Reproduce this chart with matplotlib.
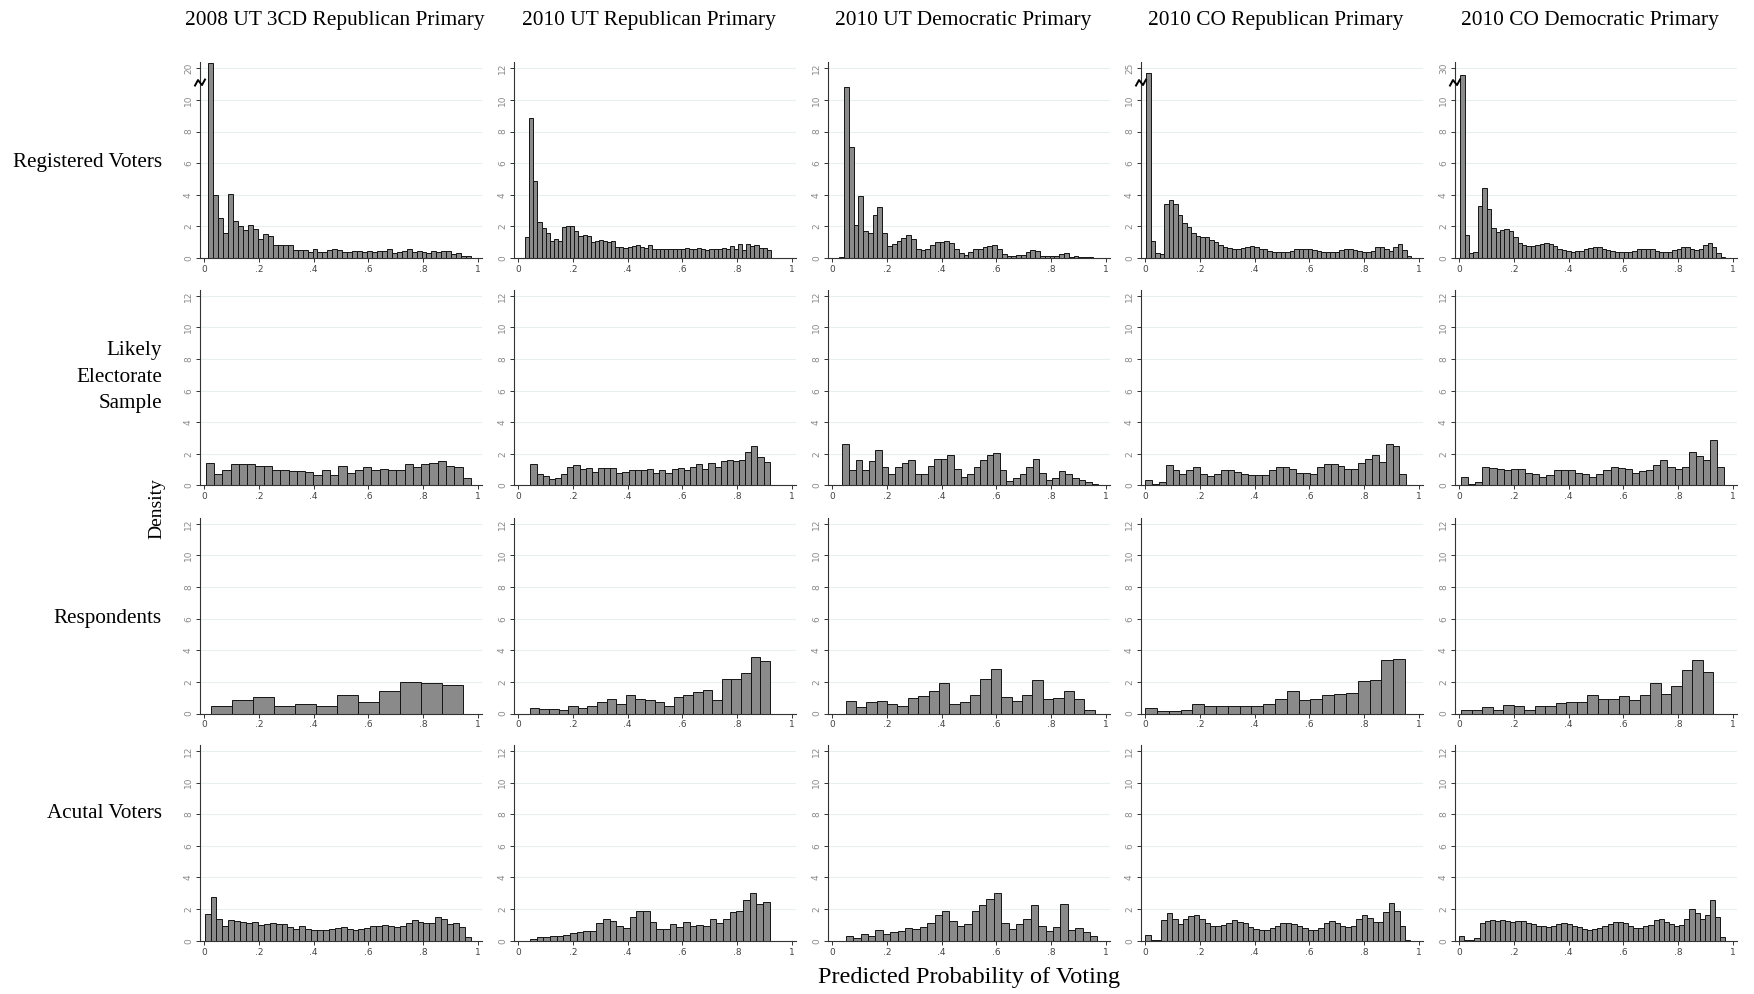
import numpy as np
import matplotlib
matplotlib.use("Agg")
import matplotlib.pyplot as plt

# column / row labels
titles = ["2008 UT 3CD Republican Primary", "2010 UT Republican Primary",
          "2010 UT Democratic Primary", "2010 CO Republican Primary",
          "2010 CO Democratic Primary"]
row_names = ["Registered Voters", "Likely\nElectorate\nSample", "Respondents", "Acutal Voters"]
xtick_vals = [0, 0.2, 0.4, 0.6, 0.8, 1]
xtick_labs = ["0", ".2", ".4", ".6", ".8", "1"]
ytick_vals = [0, 2, 4, 6, 8, 10, 12]

# ---- row 1: registered voters (density per bin), bin range (lo, hi)
rv_ut08r = [23, 4.0, 2.55, 1.6, 4.05, 2.35, 2.05, 1.8, 2.1, 1.85, 1.2, 1.55, 1.4, 0.85, 0.8,
            0.85, 0.8, 0.5, 0.5, 0.5, 0.4, 0.6, 0.35, 0.4, 0.5, 0.6, 0.5, 0.4, 0.35, 0.45,
            0.45, 0.35, 0.45, 0.4, 0.45, 0.45, 0.55, 0.3, 0.35, 0.45, 0.6, 0.35, 0.45, 0.35,
            0.3, 0.45, 0.4, 0.45, 0.45, 0.25, 0.3, 0.15, 0.15]
rv_ut10r = [1.3, 8.85, 4.9, 2.3, 1.9, 1.6, 1.05, 1.2, 1.05, 1.95, 2.05, 2.05, 1.7, 1.4, 1.45,
            1.4, 1.0, 1.05, 1.15, 1.1, 1.0, 1.1, 0.7, 0.7, 0.65, 0.7, 0.75, 0.85, 0.7, 0.65,
            0.8, 0.6, 0.55, 0.55, 0.6, 0.55, 0.6, 0.55, 0.55, 0.65, 0.6, 0.55, 0.65, 0.6, 0.5,
            0.6, 0.6, 0.55, 0.65, 0.6, 0.75, 0.6, 0.9, 0.5, 0.9, 0.75, 0.85, 0.65, 0.65, 0.5]
rv_ut10d = [0.05, 10.85, 7.0, 2.1, 3.95, 1.7, 1.6, 2.75, 3.2, 1.6, 0.75, 0.9, 1.05, 1.25, 1.45,
            1.2, 0.6, 0.5, 0.6, 0.8, 1.0, 1.0, 1.1, 0.95, 0.6, 0.3, 0.2, 0.35, 0.55, 0.6, 0.7,
            0.75, 0.85, 0.6, 0.25, 0.15, 0.15, 0.2, 0.2, 0.4, 0.5, 0.45, 0.15, 0.1, 0.1, 0.15,
            0.25, 0.3, 0.05, 0.1, 0.05, 0.05, 0.05, 0.02]
rv_co10r = [21, 1.05, 0.3, 0.25, 3.4, 3.7, 3.4, 2.75, 2.2, 1.95, 1.6, 1.4, 1.35, 1.3, 1.15, 1.0,
            0.85, 0.7, 0.65, 0.6, 0.6, 0.65, 0.7, 0.75, 0.7, 0.6, 0.55, 0.45, 0.4, 0.4, 0.4,
            0.4, 0.45, 0.55, 0.6, 0.6, 0.6, 0.5, 0.45, 0.35, 0.35, 0.35, 0.4, 0.5, 0.55, 0.6,
            0.5, 0.45, 0.35, 0.35, 0.45, 0.7, 0.7, 0.55, 0.45, 0.7, 0.9, 0.5, 0.1]
rv_co10d = [22, 1.45, 0.3, 0.35, 3.3, 4.4, 3.1, 1.9, 1.65, 1.8, 1.85, 1.7, 1.35, 0.95, 0.8,
            0.75, 0.75, 0.85, 0.9, 0.95, 0.9, 0.75, 0.6, 0.5, 0.45, 0.4, 0.45, 0.45, 0.55,
            0.65, 0.7, 0.7, 0.6, 0.5, 0.45, 0.4, 0.35, 0.35, 0.4, 0.45, 0.55, 0.6, 0.6, 0.55,
            0.45, 0.4, 0.4, 0.4, 0.5, 0.6, 0.7, 0.7, 0.6, 0.5, 0.55, 0.85, 0.95, 0.7, 0.3, 0.05]

# ---- row 2: likely electorate sample
le_ut08r = [1.4, 0.7, 0.95, 1.35, 1.35, 1.35, 1.25, 1.25, 0.95, 0.95, 0.9, 0.9, 0.85, 0.65,
            0.95, 0.65, 1.25, 0.8, 0.95, 1.15, 0.95, 1.05, 0.95, 1.0, 1.35, 1.15, 1.35, 1.4,
            1.55, 1.25, 1.15, 0.45]
le_ut10r = [1.35, 0.75, 0.6, 0.4, 0.5, 0.75, 1.2, 1.3, 1.05, 1.1, 0.85, 1.1, 1.1, 1.1, 0.8,
            0.85, 0.95, 0.95, 0.95, 1.05, 0.8, 0.95, 0.8, 1.05, 1.1, 1.0, 1.2, 1.35, 1.05, 1.4,
            1.15, 1.55, 1.6, 1.55, 1.6, 2.1, 2.5, 1.8, 1.5]
le_ut10d = [2.65, 1.0, 1.6, 0.95, 1.55, 2.25, 1.2, 0.75, 1.15, 1.4, 1.6, 0.75, 0.75, 1.25, 1.7,
            1.7, 1.9, 1.05, 0.55, 0.75, 1.15, 1.6, 1.9, 2.05, 0.95, 0.3, 0.45, 0.7, 1.2, 1.65,
            0.8, 0.35, 0.5, 0.9, 0.7, 0.45, 0.35, 0.25, 0.1]
le_co10r = [0.35, 0.1, 0.2, 1.3, 0.95, 0.75, 0.95, 1.2, 0.75, 0.6, 0.75, 0.95, 1.0, 0.85, 0.7,
            0.65, 0.65, 0.65, 1.0, 1.15, 1.2, 1.05, 0.8, 0.8, 0.75, 1.2, 1.35, 1.35, 1.25,
            1.05, 1.05, 1.45, 1.65, 1.9, 1.5, 2.65, 2.5, 0.75]
le_co10d = [0.55, 0.1, 0.2, 1.2, 1.1, 1.05, 0.95, 1.05, 1.05, 0.8, 0.75, 0.55, 0.65, 0.95, 0.95,
            0.95, 0.8, 0.75, 0.55, 0.7, 1.0, 1.15, 1.1, 1.05, 0.8, 0.9, 0.95, 1.3, 1.6, 1.2,
            1.05, 1.2, 2.1, 1.85, 1.6, 2.9, 1.15]

# ---- row 3: respondents
rs_ut08r = [0.5, 0.85, 1.05, 0.45, 0.6, 0.5, 1.2, 0.7, 1.45, 2.0, 1.9, 1.8]
rs_ut10r = [0.35, 0.3, 0.3, 0.2, 0.5, 0.35, 0.5, 0.7, 0.9, 0.6, 1.2, 0.9, 0.85, 0.75, 0.5,
            1.05, 1.15, 1.35, 1.5, 0.85, 2.2, 2.2, 2.55, 3.55, 3.3]
rs_ut10d = [0.8, 0.4, 0.75, 0.8, 0.6, 0.45, 1.0, 1.1, 1.45, 1.9, 0.6, 0.7, 1.15, 2.2, 2.8,
            1.05, 0.8, 1.2, 2.15, 0.9, 1.0, 1.4, 0.9, 0.25]
rs_co10r = [0.35, 0.15, 0.15, 0.2, 0.6, 0.5, 0.5, 0.45, 0.45, 0.5, 0.6, 0.9, 1.4, 0.85, 0.9,
            1.15, 1.25, 1.3, 2.05, 2.15, 3.4, 3.45]
rs_co10d = [0.25, 0.2, 0.4, 0.2, 0.55, 0.5, 0.25, 0.5, 0.5, 0.65, 0.7, 0.7, 1.2, 0.9, 0.9,
            1.1, 0.85, 1.2, 1.9, 1.25, 1.75, 2.75, 3.4, 2.6]

# ---- row 4: actual voters
av_ut08r = [1.7, 2.75, 1.4, 0.9, 1.3, 1.25, 1.2, 1.15, 1.2, 1.0, 1.05, 1.1, 1.05, 1.05, 0.85,
            0.75, 0.9, 0.75, 0.65, 0.65, 0.7, 0.75, 0.8, 0.85, 0.75, 0.7, 0.75, 0.8, 0.95,
            0.95, 1.0, 0.9, 0.85, 0.9, 1.1, 1.3, 1.2, 1.1, 1.15, 1.5, 1.35, 1.05, 1.15, 0.85,
            0.25]
av_ut10r = [0.1, 0.25, 0.25, 0.3, 0.3, 0.35, 0.5, 0.55, 0.6, 0.6, 1.1, 1.35, 1.25, 0.9, 0.8,
            1.5, 1.9, 1.85, 1.2, 0.75, 0.75, 1.05, 0.85, 1.2, 0.9, 1.0, 0.95, 1.4, 1.15, 1.4,
            1.8, 1.9, 2.6, 3.0, 2.3, 2.45]
av_ut10d = [0.3, 0.2, 0.4, 0.3, 0.7, 0.4, 0.55, 0.6, 0.8, 0.75, 0.85, 1.1, 1.6, 1.9, 1.25,
            0.95, 1.05, 1.85, 2.25, 2.65, 3.0, 1.1, 0.75, 1.05, 1.4, 2.25, 0.9, 0.6, 0.85, 2.3,
            0.7, 0.8, 0.55, 0.3]
av_co10r = [0.35, 0.05, 0.05, 1.3, 1.75, 1.35, 1.05, 1.35, 1.55, 1.6, 1.4, 1.15, 0.9, 0.9, 1.0,
            1.15, 1.3, 1.2, 1.1, 0.85, 0.75, 0.65, 0.7, 0.8, 0.95, 1.15, 1.15, 1.05, 0.9, 0.8,
            0.7, 0.7, 0.8, 1.1, 1.25, 1.15, 0.95, 0.85, 0.95, 1.4, 1.6, 1.45, 1.2, 1.2, 1.8,
            2.4, 1.85, 0.9, 0.05]
av_co10d = [0.3, 0.05, 0.05, 0.15, 1.1, 1.25, 1.3, 1.25, 1.3, 1.25, 1.2, 1.25, 1.25, 1.1, 1.05,
            0.95, 0.9, 0.85, 0.95, 1.05, 1.1, 1.05, 0.95, 0.85, 0.75, 0.7, 0.75, 0.8, 0.9, 1.05,
            1.2, 1.2, 1.15, 0.9, 0.8, 0.8, 0.9, 1.0, 1.3, 1.4, 1.2, 1.05, 0.95, 1.0, 1.4, 2.0,
            1.75, 1.35, 1.6, 2.55, 1.5, 0.25]

# histogram support (min, max of predicted probability) per panel
rv_range = [(0.016, 0.976), (0.026, 0.924), (0.026, 0.97), (0.004, 0.973), (0.004, 0.973)]
le_range = [(0.006, 0.975), (0.045, 0.92), (0.038, 0.973), (0.0, 0.955), (0.007, 0.97)]
rs_range = [(0.025, 0.947), (0.043, 0.92), (0.049, 0.96), (0.0, 0.95), (0.007, 0.93)]
av_range = [(0.002, 0.975), (0.043, 0.92), (0.05, 0.97), (0.0, 0.97), (0.0, 0.973)]

# top tick label used where the y axis is broken (None = no break)
break_top = [20, None, None, 25, 30]

rows = [
    ([rv_ut08r, rv_ut10r, rv_ut10d, rv_co10r, rv_co10d], rv_range),
    ([le_ut08r, le_ut10r, le_ut10d, le_co10r, le_co10d], le_range),
    ([rs_ut08r, rs_ut10r, rs_ut10d, rs_co10r, rs_co10d], rs_range),
    ([av_ut08r, av_ut10r, av_ut10d, av_co10r, av_co10d], av_range),
]

W, H = 1754, 994
fig = plt.figure(figsize=(W / 100, H / 100), dpi=100)
fig.patch.set_facecolor("white")

lefts = [200, 514, 828, 1141, 1455]
zero_y = [258, 485.5, 713.5, 940.7]
aw, ah = 282, 196
ytop = 12.4
serif = ["Liberation Serif", "DejaVu Serif"]


def squash(v, top):
    # values above 11 are compressed so that `top` sits at the 12 tick
    v = np.asarray(v, dtype=float)
    if top is None:
        return v
    return np.where(v > 11, 11 + (v - 11) / (top - 11), v)


for r, (series, ranges) in enumerate(rows):
    for c in range(5):
        ax = fig.add_axes([lefts[c] / W, (H - zero_y[r]) / H, aw / W, ah / H])
        vals = series[c]
        lo, hi = ranges[c]
        edges = np.linspace(lo, hi, len(vals) + 1)
        top = break_top[c] if r == 0 else None
        ax.bar(edges[:-1], squash(vals, top), width=np.diff(edges), align="edge",
               color="#8a8a8a", edgecolor="#141414", linewidth=0.7, zorder=2)
        for gy in ytick_vals[1:]:
            ax.axhline(gy, color="#e8eff1", lw=0.8, zorder=0)
        ax.set_xlim(-0.015, 1.016)
        ax.set_ylim(0, ytop)
        for s in ["top", "right"]:
            ax.spines[s].set_visible(False)
        ax.spines["left"].set_color("#333333")
        ax.spines["bottom"].set_color("#333333")
        ax.spines["left"].set_linewidth(0.8)
        ax.spines["bottom"].set_linewidth(0.8)
        ax.set_xticks(xtick_vals)
        ax.set_xticklabels(xtick_labs)
        ax.set_yticks(ytick_vals)
        ylabs = [str(v) for v in ytick_vals]
        if top is not None:
            ylabs[-1] = str(top)
        ax.set_yticklabels(ylabs)
        ax.tick_params(axis="x", length=3, width=0.7, pad=2, labelsize=6.5,
                       labelcolor="#444444", color="#333333")
        ax.tick_params(axis="y", length=3, width=0.7, pad=2, labelsize=6.5,
                       labelcolor="#8a8a8a", color="#333333", labelrotation=90)
        for lab in ax.get_yticklabels():
            lab.set_verticalalignment("center")
        if top is not None:
            zx = np.array([-5, -2, 2, 5]) / aw
            zy = 11.1 / ytop + np.array([-3, 2.5, -2.5, 3]) / ah
            ax.plot(zx, zy, color="black", lw=1.4, transform=ax.transAxes,
                    clip_on=False, zorder=5)

# column titles
for c, t in enumerate(titles):
    fig.text((lefts[c] + aw / 2 - 6) / W, 1 - 20 / H, t, ha="center", va="center",
             fontsize=15.4, family=serif)

# row labels
row_y = [162, 377, 618, 814]
for r, name in enumerate(row_names):
    fig.text(162 / W, 1 - row_y[r] / H, name, ha="right", va="center",
             fontsize=15.2, family=serif, linespacing=1.55, multialignment="right")

fig.text(157 / W, 1 - 509 / H, "Density", rotation=90, ha="center", va="center",
         fontsize=14, family=serif)
fig.text(969 / W, 1 - 978 / H, "Predicted Probability of Voting", ha="center",
         va="center", fontsize=17.5, family=serif)

fig.savefig("out.png", dpi=100)
